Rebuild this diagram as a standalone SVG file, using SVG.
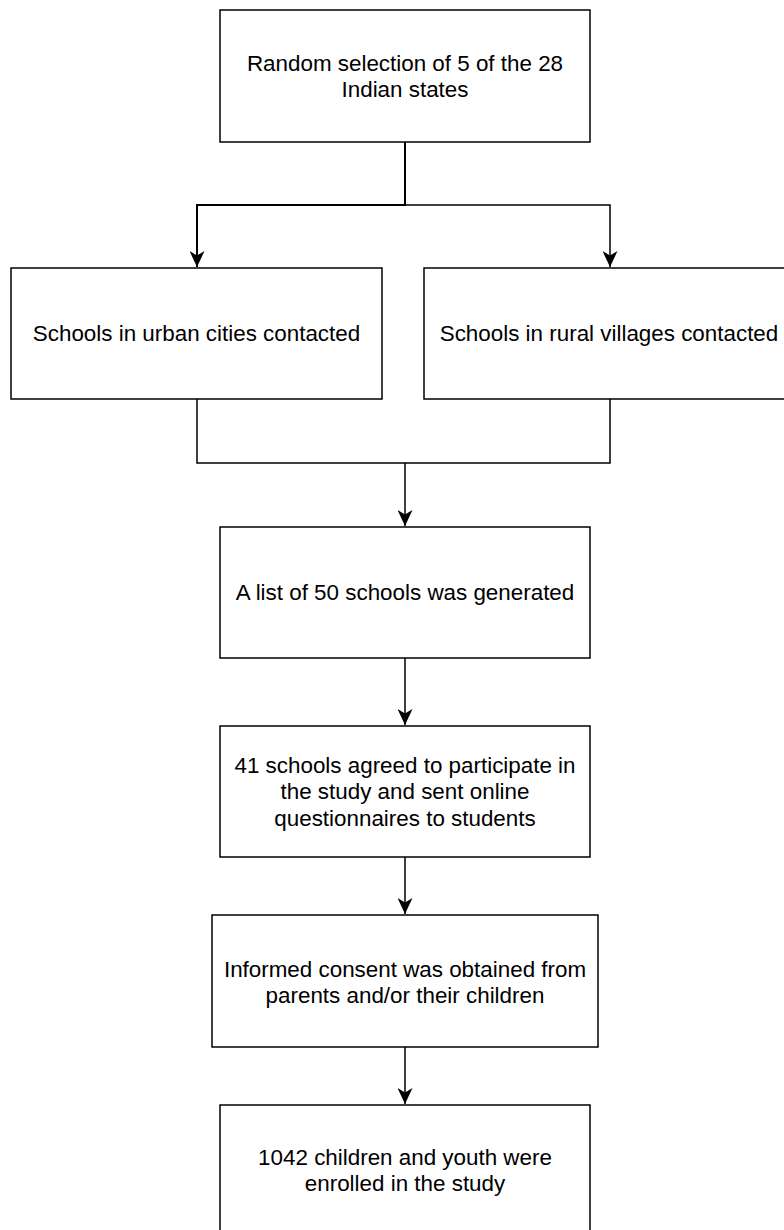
<svg xmlns="http://www.w3.org/2000/svg" width="784" height="1230" viewBox="0 0 784 1230">
<style>
.box{fill:#fff;stroke:#000;stroke-width:1.5}
.t{font-family:"Liberation Sans",Arial,sans-serif;font-size:22.4px;fill:#000;text-anchor:middle}
.c{fill:none;stroke:#000;stroke-width:1.5}
</style>
<defs>
<marker id="ah" viewBox="0 0 16 15" refX="16" refY="7.5" markerWidth="16" markerHeight="15" markerUnits="userSpaceOnUse" orient="auto">
<path d="M0,0 L4.5,7.5 L0,15 L16,7.5 Z" fill="#000"/>
</marker>
</defs>
<rect width="784" height="1230" fill="#fff"/>
<g id="connectors">
<path class="c" style="stroke-width:2" d="M405,142 V205 H197 V267" marker-end="url(#ah)"/>
<path class="c" d="M405,205 H610 V267" marker-end="url(#ah)"/>
<path class="c" d="M197,399 V463 H610 V399"/>
<path class="c" d="M405,463 V526" marker-end="url(#ah)"/>
<path class="c" d="M405,658 V725" marker-end="url(#ah)"/>
<path class="c" d="M405,857 V914" marker-end="url(#ah)"/>
<path class="c" d="M405,1047 V1104" marker-end="url(#ah)"/>
</g>
<g id="n1"><rect class="box" x="220" y="10" width="370" height="132"/>
<text class="t" x="405" y="71">Random selection of 5 of the 28</text>
<text class="t" x="405" y="97">Indian states</text></g>
<g id="n2"><rect class="box" x="11" y="268" width="371" height="131"/>
<text class="t" x="196.5" y="341">Schools in urban cities contacted</text></g>
<g id="n3"><rect class="box" x="424" y="268" width="372" height="131"/>
<text class="t" x="609" y="341">Schools in rural villages contacted</text></g>
<g id="n4"><rect class="box" x="220" y="527" width="370" height="131"/>
<text class="t" x="405" y="600">A list of 50 schools was generated</text></g>
<g id="n5"><rect class="box" x="220" y="726" width="370" height="131"/>
<text class="t" x="405" y="773">41 schools agreed to participate in</text>
<text class="t" x="405" y="799">the study and sent online</text>
<text class="t" x="405" y="826">questionnaires to students</text></g>
<g id="n6"><rect class="box" x="212" y="915" width="386" height="132"/>
<text class="t" x="405" y="977">Informed consent was obtained from</text>
<text class="t" x="405" y="1003">parents and/or their children</text></g>
<g id="n7"><rect class="box" x="220" y="1105" width="370" height="132"/>
<text class="t" x="405" y="1165">1042 children and youth were</text>
<text class="t" x="405" y="1191">enrolled in the study</text></g>
</svg>
